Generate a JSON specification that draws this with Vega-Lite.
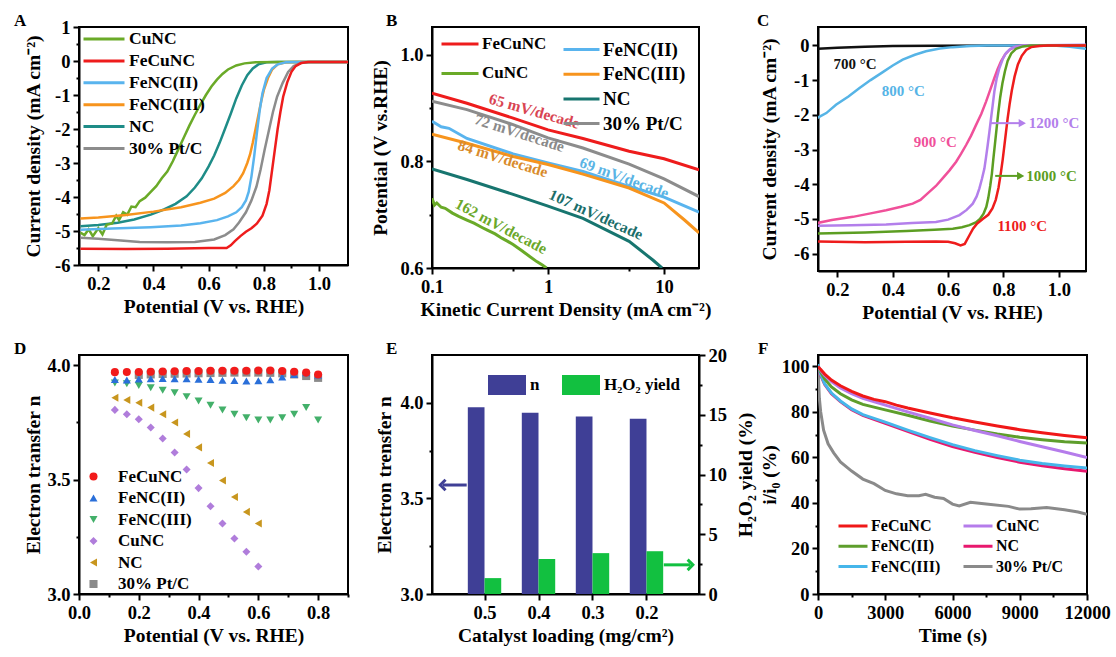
{
"$schema": "https://vega.github.io/schema/vega-lite/v6.json",
"padding": {"left": 13, "top": 11, "right": 4, "bottom": 4},
"bounds": "flush",
"columns": 5,
"spacing": {"row": 84, "column": 41.5},
"resolve": {"scale": {"color": "independent", "shape": "independent"}},
"config": {
  "font": "Liberation Serif",
  "view": {"stroke": "#000", "strokeWidth": 2},
  "axis": {"grid": false, "domainColor": "#000", "domainWidth": 2, "tickColor": "#000", "tickWidth": 2, "tickSize": 6,
    "labelFont": "Liberation Serif", "labelFontWeight": "bold", "labelFontSize": 18.5, "labelColor": "#000", "labelPadding": 3,
    "labelFlush": false, "labelOverlap": false,
    "titleFont": "Liberation Serif", "titleFontWeight": "bold", "titleFontSize": 19.5, "titleColor": "#000"},
  "legend": {"labelFont": "Liberation Serif", "labelFontWeight": "bold", "labelColor": "#000", "padding": 0},
  "title": {"font": "Liberation Serif", "fontWeight": "bold", "fontSize": 17, "color": "#000", "anchor": "start", "frame": "group"},
  "text": {"font": "Liberation Serif", "fontWeight": "bold"}
},
"datasets": {
  "A": [
    {"s":"NC","v":0.135,"j":-4.86},{"s":"NC","v":0.2,"j":-4.82},{"s":"NC","v":0.27,"j":-4.76},{"s":"NC","v":0.33,"j":-4.66},{"s":"NC","v":0.39,"j":-4.52},{"s":"NC","v":0.44,"j":-4.36},{"s":"NC","v":0.48,"j":-4.2},{"s":"NC","v":0.52,"j":-3.98},{"s":"NC","v":0.55,"j":-3.72},{"s":"NC","v":0.575,"j":-3.45},{"s":"NC","v":0.6,"j":-3.1},{"s":"NC","v":0.62,"j":-2.78},{"s":"NC","v":0.64,"j":-2.4},{"s":"NC","v":0.66,"j":-1.98},{"s":"NC","v":0.68,"j":-1.55},{"s":"NC","v":0.7,"j":-1.1},{"s":"NC","v":0.72,"j":-0.72},{"s":"NC","v":0.74,"j":-0.42},{"s":"NC","v":0.76,"j":-0.22},{"s":"NC","v":0.78,"j":-0.1},{"s":"NC","v":0.81,"j":-0.04},{"s":"NC","v":0.85,"j":-0.03},{"s":"NC","v":1.105,"j":-0.03},
    {"s":"CuNC","v":0.135,"j":-5.05},{"s":"CuNC","v":0.15,"j":-5.12},{"s":"CuNC","v":0.165,"j":-4.95},{"s":"CuNC","v":0.18,"j":-5.15},{"s":"CuNC","v":0.2,"j":-4.92},{"s":"CuNC","v":0.215,"j":-5.1},{"s":"CuNC","v":0.23,"j":-4.82},{"s":"CuNC","v":0.25,"j":-4.78},{"s":"CuNC","v":0.265,"j":-4.55},{"s":"CuNC","v":0.275,"j":-4.68},{"s":"CuNC","v":0.29,"j":-4.45},{"s":"CuNC","v":0.305,"j":-4.52},{"s":"CuNC","v":0.32,"j":-4.28},{"s":"CuNC","v":0.335,"j":-4.3},{"s":"CuNC","v":0.35,"j":-4.12},{"s":"CuNC","v":0.37,"j":-4.02},{"s":"CuNC","v":0.39,"j":-3.85},{"s":"CuNC","v":0.41,"j":-3.68},{"s":"CuNC","v":0.43,"j":-3.45},{"s":"CuNC","v":0.45,"j":-3.25},{"s":"CuNC","v":0.47,"j":-2.95},{"s":"CuNC","v":0.49,"j":-2.6},{"s":"CuNC","v":0.51,"j":-2.25},{"s":"CuNC","v":0.53,"j":-1.9},{"s":"CuNC","v":0.55,"j":-1.58},{"s":"CuNC","v":0.57,"j":-1.28},{"s":"CuNC","v":0.59,"j":-1.0},{"s":"CuNC","v":0.61,"j":-0.75},{"s":"CuNC","v":0.63,"j":-0.55},{"s":"CuNC","v":0.65,"j":-0.38},{"s":"CuNC","v":0.67,"j":-0.25},{"s":"CuNC","v":0.7,"j":-0.13},{"s":"CuNC","v":0.73,"j":-0.07},{"s":"CuNC","v":0.77,"j":-0.04},{"s":"CuNC","v":0.85,"j":-0.03},{"s":"CuNC","v":1.105,"j":-0.03},
    {"s":"FeNC(III)","v":0.135,"j":-4.63},{"s":"FeNC(III)","v":0.2,"j":-4.6},{"s":"FeNC(III)","v":0.3,"j":-4.53},{"s":"FeNC(III)","v":0.4,"j":-4.43},{"s":"FeNC(III)","v":0.5,"j":-4.3},{"s":"FeNC(III)","v":0.57,"j":-4.17},{"s":"FeNC(III)","v":0.62,"j":-4.05},{"s":"FeNC(III)","v":0.66,"j":-3.88},{"s":"FeNC(III)","v":0.69,"j":-3.68},{"s":"FeNC(III)","v":0.71,"j":-3.5},{"s":"FeNC(III)","v":0.725,"j":-3.3},{"s":"FeNC(III)","v":0.74,"j":-3.0},{"s":"FeNC(III)","v":0.75,"j":-2.75},{"s":"FeNC(III)","v":0.76,"j":-2.4},{"s":"FeNC(III)","v":0.77,"j":-2.0},{"s":"FeNC(III)","v":0.78,"j":-1.6},{"s":"FeNC(III)","v":0.79,"j":-1.2},{"s":"FeNC(III)","v":0.8,"j":-0.85},{"s":"FeNC(III)","v":0.815,"j":-0.5},{"s":"FeNC(III)","v":0.83,"j":-0.25},{"s":"FeNC(III)","v":0.85,"j":-0.1},{"s":"FeNC(III)","v":0.88,"j":-0.04},{"s":"FeNC(III)","v":0.92,"j":-0.03},{"s":"FeNC(III)","v":1.105,"j":-0.03},
    {"s":"FeNC(II)","v":0.135,"j":-4.96},{"s":"FeNC(II)","v":0.25,"j":-4.93},{"s":"FeNC(II)","v":0.39,"j":-4.89},{"s":"FeNC(II)","v":0.5,"j":-4.84},{"s":"FeNC(II)","v":0.57,"j":-4.77},{"s":"FeNC(II)","v":0.63,"j":-4.68},{"s":"FeNC(II)","v":0.67,"j":-4.57},{"s":"FeNC(II)","v":0.7,"j":-4.45},{"s":"FeNC(II)","v":0.72,"j":-4.3},{"s":"FeNC(II)","v":0.735,"j":-4.1},{"s":"FeNC(II)","v":0.745,"j":-3.85},{"s":"FeNC(II)","v":0.755,"j":-3.4},{"s":"FeNC(II)","v":0.765,"j":-2.8},{"s":"FeNC(II)","v":0.775,"j":-2.1},{"s":"FeNC(II)","v":0.785,"j":-1.45},{"s":"FeNC(II)","v":0.795,"j":-0.95},{"s":"FeNC(II)","v":0.81,"j":-0.5},{"s":"FeNC(II)","v":0.83,"j":-0.22},{"s":"FeNC(II)","v":0.85,"j":-0.1},{"s":"FeNC(II)","v":0.88,"j":-0.04},{"s":"FeNC(II)","v":0.93,"j":-0.03},{"s":"FeNC(II)","v":1.105,"j":-0.03},
    {"s":"30% Pt/C","v":0.135,"j":-5.2},{"s":"30% Pt/C","v":0.2,"j":-5.23},{"s":"30% Pt/C","v":0.27,"j":-5.27},{"s":"30% Pt/C","v":0.35,"j":-5.32},{"s":"30% Pt/C","v":0.45,"j":-5.33},{"s":"30% Pt/C","v":0.55,"j":-5.32},{"s":"30% Pt/C","v":0.62,"j":-5.25},{"s":"30% Pt/C","v":0.66,"j":-5.12},{"s":"30% Pt/C","v":0.69,"j":-4.95},{"s":"30% Pt/C","v":0.71,"j":-4.75},{"s":"30% Pt/C","v":0.735,"j":-4.45},{"s":"30% Pt/C","v":0.755,"j":-4.1},{"s":"30% Pt/C","v":0.773,"j":-3.7},{"s":"30% Pt/C","v":0.788,"j":-3.2},{"s":"30% Pt/C","v":0.803,"j":-2.6},{"s":"30% Pt/C","v":0.818,"j":-2.05},{"s":"30% Pt/C","v":0.833,"j":-1.5},{"s":"30% Pt/C","v":0.848,"j":-1.05},{"s":"30% Pt/C","v":0.868,"j":-0.65},{"s":"30% Pt/C","v":0.888,"j":-0.32},{"s":"30% Pt/C","v":0.908,"j":-0.15},{"s":"30% Pt/C","v":0.933,"j":-0.06},{"s":"30% Pt/C","v":0.968,"j":-0.03},{"s":"30% Pt/C","v":1.105,"j":-0.03},
    {"s":"FeCuNC","v":0.135,"j":-5.52},{"s":"FeCuNC","v":0.3,"j":-5.53},{"s":"FeCuNC","v":0.45,"j":-5.52},{"s":"FeCuNC","v":0.6,"j":-5.5},{"s":"FeCuNC","v":0.665,"j":-5.5},{"s":"FeCuNC","v":0.68,"j":-5.42},{"s":"FeCuNC","v":0.695,"j":-5.3},{"s":"FeCuNC","v":0.715,"j":-5.15},{"s":"FeCuNC","v":0.735,"j":-5.02},{"s":"FeCuNC","v":0.755,"j":-4.92},{"s":"FeCuNC","v":0.775,"j":-4.78},{"s":"FeCuNC","v":0.795,"j":-4.55},{"s":"FeCuNC","v":0.81,"j":-4.2},{"s":"FeCuNC","v":0.82,"j":-3.8},{"s":"FeCuNC","v":0.83,"j":-3.2},{"s":"FeCuNC","v":0.84,"j":-2.6},{"s":"FeCuNC","v":0.85,"j":-2.0},{"s":"FeCuNC","v":0.86,"j":-1.5},{"s":"FeCuNC","v":0.87,"j":-1.05},{"s":"FeCuNC","v":0.885,"j":-0.62},{"s":"FeCuNC","v":0.9,"j":-0.32},{"s":"FeCuNC","v":0.915,"j":-0.15},{"s":"FeCuNC","v":0.935,"j":-0.06},{"s":"FeCuNC","v":0.96,"j":-0.03},{"s":"FeCuNC","v":1.105,"j":-0.03}
  ],
  "B": [
    {"s":"FeCuNC","k":0.1,"E":0.928},{"s":"FeCuNC","k":0.2,"E":0.909},{"s":"FeCuNC","k":0.5,"E":0.881},{"s":"FeCuNC","k":1,"E":0.859},{"s":"FeCuNC","k":2,"E":0.843},{"s":"FeCuNC","k":5,"E":0.819},{"s":"FeCuNC","k":10,"E":0.805},{"s":"FeCuNC","k":20,"E":0.784},
    {"s":"CuNC","k":0.1,"E":0.731},{"s":"CuNC","k":0.105,"E":0.718},{"s":"CuNC","k":0.11,"E":0.722},{"s":"CuNC","k":0.12,"E":0.714},{"s":"CuNC","k":0.13,"E":0.712},{"s":"CuNC","k":0.15,"E":0.703},{"s":"CuNC","k":0.17,"E":0.697},{"s":"CuNC","k":0.2,"E":0.69},{"s":"CuNC","k":0.23,"E":0.684},{"s":"CuNC","k":0.27,"E":0.676},{"s":"CuNC","k":0.3,"E":0.671},{"s":"CuNC","k":0.35,"E":0.664},{"s":"CuNC","k":0.4,"E":0.656},{"s":"CuNC","k":0.45,"E":0.65},{"s":"CuNC","k":0.5,"E":0.644},{"s":"CuNC","k":0.6,"E":0.632},{"s":"CuNC","k":0.7,"E":0.621},{"s":"CuNC","k":0.8,"E":0.612},{"s":"CuNC","k":0.9,"E":0.605},{"s":"CuNC","k":0.97,"E":0.6},
    {"s":"FeNC(II)","k":0.1,"E":0.875},{"s":"FeNC(II)","k":0.12,"E":0.865},{"s":"FeNC(II)","k":0.14,"E":0.862},{"s":"FeNC(II)","k":0.2,"E":0.843},{"s":"FeNC(II)","k":0.5,"E":0.814},{"s":"FeNC(II)","k":1,"E":0.797},{"s":"FeNC(II)","k":2,"E":0.781},{"s":"FeNC(II)","k":5,"E":0.753},{"s":"FeNC(II)","k":10,"E":0.733},{"s":"FeNC(II)","k":20,"E":0.705},
    {"s":"FeNC(III)","k":0.1,"E":0.851},{"s":"FeNC(III)","k":0.2,"E":0.834},{"s":"FeNC(III)","k":0.5,"E":0.809},{"s":"FeNC(III)","k":1,"E":0.794},{"s":"FeNC(III)","k":2,"E":0.776},{"s":"FeNC(III)","k":5,"E":0.75},{"s":"FeNC(III)","k":10,"E":0.722},{"s":"FeNC(III)","k":15,"E":0.69},{"s":"FeNC(III)","k":20,"E":0.666},
    {"s":"NC","k":0.1,"E":0.786},{"s":"NC","k":0.2,"E":0.766},{"s":"NC","k":0.5,"E":0.738},{"s":"NC","k":1,"E":0.716},{"s":"NC","k":2,"E":0.693},{"s":"NC","k":5,"E":0.65},{"s":"NC","k":8,"E":0.615},{"s":"NC","k":9.6,"E":0.6},
    {"s":"30% Pt/C","k":0.1,"E":0.913},{"s":"30% Pt/C","k":0.2,"E":0.897},{"s":"30% Pt/C","k":0.5,"E":0.869},{"s":"30% Pt/C","k":1,"E":0.844},{"s":"30% Pt/C","k":2,"E":0.825},{"s":"30% Pt/C","k":5,"E":0.795},{"s":"30% Pt/C","k":10,"E":0.767},{"s":"30% Pt/C","k":20,"E":0.734}
  ],
  "C": [
    {"T":"700 °C","v":0.12,"j":-0.1},{"T":"700 °C","v":0.2,"j":-0.07},{"T":"700 °C","v":0.3,"j":-0.04},{"T":"700 °C","v":0.4,"j":-0.02},{"T":"700 °C","v":0.55,"j":-0.01},{"T":"700 °C","v":1.1,"j":0.0},
    {"T":"800 °C","v":0.12,"j":-2.12},{"T":"800 °C","v":0.16,"j":-1.95},{"T":"800 °C","v":0.195,"j":-1.71},{"T":"800 °C","v":0.24,"j":-1.47},{"T":"800 °C","v":0.28,"j":-1.23},{"T":"800 °C","v":0.32,"j":-1.0},{"T":"800 °C","v":0.364,"j":-0.77},{"T":"800 °C","v":0.4,"j":-0.58},{"T":"800 °C","v":0.436,"j":-0.41},{"T":"800 °C","v":0.48,"j":-0.27},{"T":"800 °C","v":0.52,"j":-0.17},{"T":"800 °C","v":0.57,"j":-0.09},{"T":"800 °C","v":0.617,"j":-0.05},{"T":"800 °C","v":0.68,"j":-0.02},{"T":"800 °C","v":0.74,"j":0.0},{"T":"800 °C","v":0.98,"j":0.0},{"T":"800 °C","v":1.04,"j":-0.04},{"T":"800 °C","v":1.1,"j":-0.1},
    {"T":"900 °C","v":0.12,"j":-5.13},{"T":"900 °C","v":0.18,"j":-5.03},{"T":"900 °C","v":0.256,"j":-4.94},{"T":"900 °C","v":0.32,"j":-4.84},{"T":"900 °C","v":0.376,"j":-4.75},{"T":"900 °C","v":0.43,"j":-4.65},{"T":"900 °C","v":0.472,"j":-4.56},{"T":"900 °C","v":0.5,"j":-4.45},{"T":"900 °C","v":0.532,"j":-4.22},{"T":"900 °C","v":0.556,"j":-4.05},{"T":"900 °C","v":0.58,"j":-3.83},{"T":"900 °C","v":0.605,"j":-3.6},{"T":"900 °C","v":0.629,"j":-3.35},{"T":"900 °C","v":0.647,"j":-3.12},{"T":"900 °C","v":0.665,"j":-2.87},{"T":"900 °C","v":0.683,"j":-2.6},{"T":"900 °C","v":0.701,"j":-2.29},{"T":"900 °C","v":0.72,"j":-1.97},{"T":"900 °C","v":0.737,"j":-1.62},{"T":"900 °C","v":0.752,"j":-1.28},{"T":"900 °C","v":0.767,"j":-0.94},{"T":"900 °C","v":0.779,"j":-0.68},{"T":"900 °C","v":0.791,"j":-0.46},{"T":"900 °C","v":0.805,"j":-0.27},{"T":"900 °C","v":0.821,"j":-0.13},{"T":"900 °C","v":0.84,"j":-0.05},{"T":"900 °C","v":0.857,"j":-0.02},{"T":"900 °C","v":0.9,"j":0.0},{"T":"900 °C","v":1.1,"j":0.0},
    {"T":"1200 °C","v":0.12,"j":-5.2},{"T":"1200 °C","v":0.25,"j":-5.18},{"T":"1200 °C","v":0.376,"j":-5.16},{"T":"1200 °C","v":0.47,"j":-5.12},{"T":"1200 °C","v":0.556,"j":-5.09},{"T":"1200 °C","v":0.6,"j":-5.02},{"T":"1200 °C","v":0.641,"j":-4.89},{"T":"1200 °C","v":0.667,"j":-4.74},{"T":"1200 °C","v":0.689,"j":-4.56},{"T":"1200 °C","v":0.703,"j":-4.35},{"T":"1200 °C","v":0.713,"j":-4.12},{"T":"1200 °C","v":0.722,"j":-3.85},{"T":"1200 °C","v":0.731,"j":-3.55},{"T":"1200 °C","v":0.737,"j":-3.22},{"T":"1200 °C","v":0.743,"j":-2.87},{"T":"1200 °C","v":0.749,"j":-2.5},{"T":"1200 °C","v":0.755,"j":-2.1},{"T":"1200 °C","v":0.761,"j":-1.72},{"T":"1200 °C","v":0.767,"j":-1.33},{"T":"1200 °C","v":0.775,"j":-0.97},{"T":"1200 °C","v":0.785,"j":-0.66},{"T":"1200 °C","v":0.797,"j":-0.4},{"T":"1200 °C","v":0.809,"j":-0.22},{"T":"1200 °C","v":0.825,"j":-0.1},{"T":"1200 °C","v":0.845,"j":-0.04},{"T":"1200 °C","v":0.87,"j":0.0},{"T":"1200 °C","v":1.1,"j":0.02},
    {"T":"1000 °C","v":0.12,"j":-5.42},{"T":"1000 °C","v":0.3,"j":-5.39},{"T":"1000 °C","v":0.45,"j":-5.35},{"T":"1000 °C","v":0.55,"j":-5.31},{"T":"1000 °C","v":0.617,"j":-5.28},{"T":"1000 °C","v":0.65,"j":-5.24},{"T":"1000 °C","v":0.677,"j":-5.18},{"T":"1000 °C","v":0.7,"j":-5.1},{"T":"1000 °C","v":0.715,"j":-5.0},{"T":"1000 °C","v":0.728,"j":-4.85},{"T":"1000 °C","v":0.738,"j":-4.65},{"T":"1000 °C","v":0.745,"j":-4.4},{"T":"1000 °C","v":0.752,"j":-4.05},{"T":"1000 °C","v":0.758,"j":-3.7},{"T":"1000 °C","v":0.763,"j":-3.3},{"T":"1000 °C","v":0.769,"j":-2.85},{"T":"1000 °C","v":0.775,"j":-2.4},{"T":"1000 °C","v":0.781,"j":-1.95},{"T":"1000 °C","v":0.788,"j":-1.5},{"T":"1000 °C","v":0.796,"j":-1.1},{"T":"1000 °C","v":0.805,"j":-0.75},{"T":"1000 °C","v":0.815,"j":-0.45},{"T":"1000 °C","v":0.828,"j":-0.23},{"T":"1000 °C","v":0.845,"j":-0.1},{"T":"1000 °C","v":0.87,"j":-0.03},{"T":"1000 °C","v":0.9,"j":0.0},{"T":"1000 °C","v":1.1,"j":0.0},
    {"T":"1100 °C","v":0.12,"j":-5.65},{"T":"1100 °C","v":0.3,"j":-5.67},{"T":"1100 °C","v":0.45,"j":-5.66},{"T":"1100 °C","v":0.556,"j":-5.65},{"T":"1100 °C","v":0.6,"j":-5.66},{"T":"1100 °C","v":0.625,"j":-5.7},{"T":"1100 °C","v":0.645,"j":-5.76},{"T":"1100 °C","v":0.66,"j":-5.72},{"T":"1100 °C","v":0.677,"j":-5.47},{"T":"1100 °C","v":0.69,"j":-5.28},{"T":"1100 °C","v":0.705,"j":-5.13},{"T":"1100 °C","v":0.725,"j":-5.0},{"T":"1100 °C","v":0.745,"j":-4.88},{"T":"1100 °C","v":0.76,"j":-4.7},{"T":"1100 °C","v":0.772,"j":-4.45},{"T":"1100 °C","v":0.782,"j":-4.1},{"T":"1100 °C","v":0.79,"j":-3.7},{"T":"1100 °C","v":0.797,"j":-3.3},{"T":"1100 °C","v":0.803,"j":-2.9},{"T":"1100 °C","v":0.809,"j":-2.5},{"T":"1100 °C","v":0.815,"j":-2.1},{"T":"1100 °C","v":0.822,"j":-1.7},{"T":"1100 °C","v":0.83,"j":-1.3},{"T":"1100 °C","v":0.84,"j":-0.9},{"T":"1100 °C","v":0.852,"j":-0.55},{"T":"1100 °C","v":0.866,"j":-0.3},{"T":"1100 °C","v":0.882,"j":-0.13},{"T":"1100 °C","v":0.9,"j":-0.05},{"T":"1100 °C","v":0.93,"j":-0.02},{"T":"1100 °C","v":0.96,"j":0.0},{"T":"1100 °C","v":1.1,"j":0.0}
  ],
  "D": [
    {"s":"30% Pt/C","v":0.2,"n":3.958},{"s":"30% Pt/C","v":0.24,"n":3.96},{"s":"30% Pt/C","v":0.28,"n":3.962},{"s":"30% Pt/C","v":0.32,"n":3.963},{"s":"30% Pt/C","v":0.36,"n":3.964},{"s":"30% Pt/C","v":0.4,"n":3.965},{"s":"30% Pt/C","v":0.44,"n":3.966},{"s":"30% Pt/C","v":0.48,"n":3.967},{"s":"30% Pt/C","v":0.52,"n":3.968},{"s":"30% Pt/C","v":0.56,"n":3.968},{"s":"30% Pt/C","v":0.6,"n":3.968},{"s":"30% Pt/C","v":0.64,"n":3.967},{"s":"30% Pt/C","v":0.68,"n":3.965},{"s":"30% Pt/C","v":0.72,"n":3.96},{"s":"30% Pt/C","v":0.76,"n":3.953},{"s":"30% Pt/C","v":0.8,"n":3.945},
    {"s":"NC","v":0.12,"n":3.858},{"s":"NC","v":0.16,"n":3.848},{"s":"NC","v":0.2,"n":3.836},{"s":"NC","v":0.24,"n":3.815},{"s":"NC","v":0.28,"n":3.786},{"s":"NC","v":0.32,"n":3.75},{"s":"NC","v":0.36,"n":3.7},{"s":"NC","v":0.4,"n":3.641},{"s":"NC","v":0.44,"n":3.573},{"s":"NC","v":0.48,"n":3.496},{"s":"NC","v":0.52,"n":3.424},{"s":"NC","v":0.56,"n":3.359},{"s":"NC","v":0.6,"n":3.308},
    {"s":"CuNC","v":0.12,"n":3.805},{"s":"CuNC","v":0.16,"n":3.786},{"s":"CuNC","v":0.2,"n":3.764},{"s":"CuNC","v":0.24,"n":3.728},{"s":"CuNC","v":0.28,"n":3.68},{"s":"CuNC","v":0.32,"n":3.619},{"s":"CuNC","v":0.36,"n":3.544},{"s":"CuNC","v":0.4,"n":3.463},{"s":"CuNC","v":0.44,"n":3.384},{"s":"CuNC","v":0.48,"n":3.308},{"s":"CuNC","v":0.52,"n":3.243},{"s":"CuNC","v":0.56,"n":3.185},{"s":"CuNC","v":0.6,"n":3.12},
    {"s":"FeNC(III)","v":0.12,"n":3.923},{"s":"FeNC(III)","v":0.16,"n":3.919},{"s":"FeNC(III)","v":0.2,"n":3.912},{"s":"FeNC(III)","v":0.24,"n":3.902},{"s":"FeNC(III)","v":0.28,"n":3.891},{"s":"FeNC(III)","v":0.32,"n":3.88},{"s":"FeNC(III)","v":0.36,"n":3.863},{"s":"FeNC(III)","v":0.4,"n":3.844},{"s":"FeNC(III)","v":0.44,"n":3.825},{"s":"FeNC(III)","v":0.48,"n":3.805},{"s":"FeNC(III)","v":0.52,"n":3.786},{"s":"FeNC(III)","v":0.56,"n":3.771},{"s":"FeNC(III)","v":0.6,"n":3.761},{"s":"FeNC(III)","v":0.64,"n":3.761},{"s":"FeNC(III)","v":0.68,"n":3.771},{"s":"FeNC(III)","v":0.72,"n":3.786},{"s":"FeNC(III)","v":0.76,"n":3.815},{"s":"FeNC(III)","v":0.8,"n":3.761},
    {"s":"FeNC(II)","v":0.12,"n":3.938},{"s":"FeNC(II)","v":0.16,"n":3.936},{"s":"FeNC(II)","v":0.2,"n":3.94},{"s":"FeNC(II)","v":0.24,"n":3.941},{"s":"FeNC(II)","v":0.28,"n":3.942},{"s":"FeNC(II)","v":0.32,"n":3.941},{"s":"FeNC(II)","v":0.36,"n":3.941},{"s":"FeNC(II)","v":0.4,"n":3.939},{"s":"FeNC(II)","v":0.44,"n":3.938},{"s":"FeNC(II)","v":0.48,"n":3.935},{"s":"FeNC(II)","v":0.52,"n":3.933},{"s":"FeNC(II)","v":0.56,"n":3.931},{"s":"FeNC(II)","v":0.6,"n":3.932},{"s":"FeNC(II)","v":0.64,"n":3.937},{"s":"FeNC(II)","v":0.68,"n":3.949},{"s":"FeNC(II)","v":0.72,"n":3.96},{"s":"FeNC(II)","v":0.76,"n":3.967},{"s":"FeNC(II)","v":0.8,"n":3.957},
    {"s":"FeCuNC","v":0.12,"n":3.97},{"s":"FeCuNC","v":0.16,"n":3.971},{"s":"FeCuNC","v":0.2,"n":3.971},{"s":"FeCuNC","v":0.24,"n":3.972},{"s":"FeCuNC","v":0.28,"n":3.973},{"s":"FeCuNC","v":0.32,"n":3.974},{"s":"FeCuNC","v":0.36,"n":3.975},{"s":"FeCuNC","v":0.4,"n":3.975},{"s":"FeCuNC","v":0.44,"n":3.976},{"s":"FeCuNC","v":0.48,"n":3.976},{"s":"FeCuNC","v":0.52,"n":3.976},{"s":"FeCuNC","v":0.56,"n":3.976},{"s":"FeCuNC","v":0.6,"n":3.977},{"s":"FeCuNC","v":0.64,"n":3.977},{"s":"FeCuNC","v":0.68,"n":3.975},{"s":"FeCuNC","v":0.72,"n":3.972},{"s":"FeCuNC","v":0.76,"n":3.968},{"s":"FeCuNC","v":0.8,"n":3.96}
  ],
  "E": [
    {"c":0.5,"n":3.977,"h":1.33},{"c":0.4,"n":3.948,"h":2.92},{"c":0.3,"n":3.929,"h":3.42},{"c":0.2,"n":3.917,"h":3.58}
  ],
  "F": [
    {"s":"30% Pt/C","t":0,"r":100},{"s":"30% Pt/C","t":30,"r":93},{"s":"30% Pt/C","t":60,"r":86},{"s":"30% Pt/C","t":120,"r":80},{"s":"30% Pt/C","t":250,"r":72},{"s":"30% Pt/C","t":450,"r":66},{"s":"30% Pt/C","t":700,"r":62},{"s":"30% Pt/C","t":1000,"r":58},{"s":"30% Pt/C","t":1500,"r":54},{"s":"30% Pt/C","t":2000,"r":50.5},{"s":"30% Pt/C","t":2500,"r":48.5},{"s":"30% Pt/C","t":3000,"r":45.5},{"s":"30% Pt/C","t":3500,"r":44},{"s":"30% Pt/C","t":4000,"r":43.2},{"s":"30% Pt/C","t":4500,"r":43.2},{"s":"30% Pt/C","t":4800,"r":43.8},{"s":"30% Pt/C","t":5200,"r":42.5},{"s":"30% Pt/C","t":5600,"r":42},{"s":"30% Pt/C","t":6000,"r":39.5},{"s":"30% Pt/C","t":6300,"r":38.7},{"s":"30% Pt/C","t":6800,"r":40.3},{"s":"30% Pt/C","t":7500,"r":39.5},{"s":"30% Pt/C","t":8500,"r":38.5},{"s":"30% Pt/C","t":9000,"r":37.3},{"s":"30% Pt/C","t":9500,"r":37.5},{"s":"30% Pt/C","t":10200,"r":38},{"s":"30% Pt/C","t":11000,"r":37},{"s":"30% Pt/C","t":11600,"r":36},{"s":"30% Pt/C","t":12000,"r":35},
    {"s":"NC","t":0,"r":100},{"s":"NC","t":100,"r":96.5},{"s":"NC","t":300,"r":92},{"s":"NC","t":600,"r":88},{"s":"NC","t":1000,"r":84.5},{"s":"NC","t":1500,"r":81},{"s":"NC","t":2000,"r":78.5},{"s":"NC","t":3000,"r":75},{"s":"NC","t":4000,"r":71.5},{"s":"NC","t":5000,"r":68},{"s":"NC","t":6000,"r":64.8},{"s":"NC","t":7000,"r":62.3},{"s":"NC","t":8000,"r":60},{"s":"NC","t":9000,"r":57.9},{"s":"NC","t":10000,"r":56.3},{"s":"NC","t":11000,"r":55},{"s":"NC","t":12000,"r":53.9},
    {"s":"FeNC(III)","t":0,"r":101},{"s":"FeNC(III)","t":100,"r":97},{"s":"FeNC(III)","t":300,"r":92.3},{"s":"FeNC(III)","t":600,"r":88.3},{"s":"FeNC(III)","t":1000,"r":84.8},{"s":"FeNC(III)","t":1500,"r":81.3},{"s":"FeNC(III)","t":2000,"r":78.8},{"s":"FeNC(III)","t":3000,"r":75.5},{"s":"FeNC(III)","t":4000,"r":72},{"s":"FeNC(III)","t":5000,"r":68.7},{"s":"FeNC(III)","t":6000,"r":65.6},{"s":"FeNC(III)","t":7000,"r":63},{"s":"FeNC(III)","t":8000,"r":60.8},{"s":"FeNC(III)","t":9000,"r":58.8},{"s":"FeNC(III)","t":10000,"r":57.3},{"s":"FeNC(III)","t":11000,"r":56.2},{"s":"FeNC(III)","t":12000,"r":55.3},
    {"s":"FeNC(II)","t":0,"r":100},{"s":"FeNC(II)","t":100,"r":97.8},{"s":"FeNC(II)","t":300,"r":94.5},{"s":"FeNC(II)","t":600,"r":91},{"s":"FeNC(II)","t":1000,"r":88},{"s":"FeNC(II)","t":1500,"r":85.3},{"s":"FeNC(II)","t":2000,"r":83.3},{"s":"FeNC(II)","t":3000,"r":80.9},{"s":"FeNC(II)","t":4000,"r":78.5},{"s":"FeNC(II)","t":5000,"r":76},{"s":"FeNC(II)","t":6000,"r":73.8},{"s":"FeNC(II)","t":7000,"r":72},{"s":"FeNC(II)","t":8000,"r":70.3},{"s":"FeNC(II)","t":9000,"r":68.9},{"s":"FeNC(II)","t":10000,"r":67.8},{"s":"FeNC(II)","t":11000,"r":66.9},{"s":"FeNC(II)","t":12000,"r":66.3},
    {"s":"CuNC","t":0,"r":100},{"s":"CuNC","t":100,"r":98.5},{"s":"CuNC","t":300,"r":96},{"s":"CuNC","t":600,"r":93.3},{"s":"CuNC","t":1000,"r":90.5},{"s":"CuNC","t":1500,"r":88},{"s":"CuNC","t":2000,"r":86},{"s":"CuNC","t":3000,"r":83},{"s":"CuNC","t":4000,"r":80},{"s":"CuNC","t":5000,"r":77.2},{"s":"CuNC","t":6000,"r":74.3},{"s":"CuNC","t":7000,"r":71.8},{"s":"CuNC","t":8000,"r":69.5},{"s":"CuNC","t":9000,"r":67},{"s":"CuNC","t":10000,"r":64.7},{"s":"CuNC","t":11000,"r":62.4},{"s":"CuNC","t":12000,"r":60},
    {"s":"FeCuNC","t":0,"r":100},{"s":"FeCuNC","t":100,"r":98.8},{"s":"FeCuNC","t":300,"r":96.6},{"s":"FeCuNC","t":600,"r":94},{"s":"FeCuNC","t":1000,"r":91.5},{"s":"FeCuNC","t":1500,"r":89},{"s":"FeCuNC","t":2000,"r":87},{"s":"FeCuNC","t":2500,"r":85.5},{"s":"FeCuNC","t":3000,"r":84.5},{"s":"FeCuNC","t":3500,"r":83},{"s":"FeCuNC","t":4000,"r":81.7},{"s":"FeCuNC","t":5000,"r":79.5},{"s":"FeCuNC","t":6000,"r":77.4},{"s":"FeCuNC","t":7000,"r":75.6},{"s":"FeCuNC","t":8000,"r":73.8},{"s":"FeCuNC","t":9000,"r":72.2},{"s":"FeCuNC","t":10000,"r":70.8},{"s":"FeCuNC","t":11000,"r":69.6},{"s":"FeCuNC","t":12000,"r":68.6}
  ]
},
"concat": [
  {
    "width": 269, "height": 238,
    "title": {"text": "A", "dx": -65, "offset": -12},
    "data": {"name": "A"},
    "mark": {"type": "line", "strokeWidth": 2.5, "clip": true},
    "encoding": {
      "x": {"field": "v", "type": "quantitative", "scale": {"domain": [0.13, 1.105], "nice": false, "zero": false},
        "axis": {"title": "Potential (V vs. RHE)", "titlePadding": 4.75, "values": [0.2,0.3,0.4,0.5,0.6,0.7,0.8,0.9,1.0],
          "labelExpr": "round(datum.value*10)%2===1 ? '' : format(datum.value,'.1f')",
          "tickSize": {"condition": {"test": "round(datum.value*10)%2===1", "value": 3}, "value": 6}}},
      "y": {"field": "j", "type": "quantitative", "scale": {"domain": [-6, 1], "nice": false, "zero": false},
        "axis": {"title": "Current density (mA cm⁻²)", "titlePadding": 11.3, "values": [-6,-5.5,-5,-4.5,-4,-3.5,-3,-2.5,-2,-1.5,-1,-0.5,0,0.5,1],
          "labelExpr": "datum.value%1!==0 ? '' : ''+datum.value",
          "tickSize": {"condition": {"test": "datum.value%1!==0", "value": 3}, "value": 6}}},
      "color": {"field": "s", "type": "nominal",
        "scale": {"domain": ["CuNC","FeCuNC","FeNC(II)","FeNC(III)","NC","30% Pt/C"], "range": ["#6AAA28","#EE1C1C","#59B4EE","#F7941D","#1E8C87","#8C8C8C"]},
        "legend": {"title": null, "orient": "top-left", "offset": 3, "symbolType": "stroke", "symbolSize": 1681, "symbolStrokeWidth": 3, "labelFontSize": 17.5, "labelOffset": 3, "clipHeight": 18, "rowPadding": 3.9}}
    }
  },
  {"width": 1, "height": 1, "view": {"stroke": null}, "data": {"values": []}, "mark": "point", "encoding": {}},
  {
    "width": 267, "height": 241,
    "title": {"text": "B", "dx": -46, "offset": -3},
    "resolve": {"scale": {"color": "independent"}},
    "layer": [
      {"data": {"name": "B"}, "transform": [{"filter": "datum.s==='FeCuNC'||datum.s==='CuNC'"}],
        "mark": {"type": "line", "strokeWidth": 3, "clip": true},
        "encoding": {
          "x": {"field": "k", "type": "quantitative", "scale": {"type": "log", "domain": [0.1, 20], "nice": false},
            "axis": {"title": "Kinetic Current Density (mA cm⁻²)", "titlePadding": 4.75, "values": [0.1,0.5,1,5,10],
              "labelExpr": "datum.value===0.5||datum.value===5 ? '' : ''+datum.value",
              "tickSize": {"condition": {"test": "datum.value===0.5||datum.value===5", "value": 3}, "value": 6}}},
          "y": {"field": "E", "type": "quantitative", "scale": {"domain": [0.6, 1.052], "nice": false, "zero": false},
            "axis": {"title": "Potential (V vs.RHE)", "titlePadding": 9.75, "values": [0.6,0.7,0.8,0.9,1.0],
              "labelExpr": "round(datum.value*10)%2===1 ? '' : format(datum.value,'.1f')",
              "tickSize": {"condition": {"test": "round(datum.value*10)%2===1", "value": 3}, "value": 6}}},
          "color": {"field": "s", "type": "nominal", "scale": {"domain": ["FeCuNC","CuNC"], "range": ["#EE1C1C","#6AAA28"]},
            "legend": {"title": null, "orient": "top-left", "offset": 8, "symbolType": "stroke", "symbolSize": 1369, "symbolStrokeWidth": 3, "labelFontSize": 17, "labelOffset": 2, "clipHeight": 18, "rowPadding": 11.4}}
        }},
      {"data": {"name": "B"}, "transform": [{"filter": "datum.s!=='FeCuNC'&&datum.s!=='CuNC'"}],
        "mark": {"type": "line", "strokeWidth": 3, "clip": true},
        "encoding": {
          "x": {"field": "k", "type": "quantitative"},
          "y": {"field": "E", "type": "quantitative"},
          "color": {"field": "s", "type": "nominal", "scale": {"domain": ["FeNC(II)","FeNC(III)","NC","30% Pt/C"], "range": ["#59B4EE","#F7941D","#17756F","#8C8C8C"]},
            "legend": {"title": null, "orient": "top-right", "offset": 13, "symbolType": "stroke", "symbolSize": 1296, "symbolStrokeWidth": 3, "labelFontSize": 19, "labelOffset": 2, "clipHeight": 19, "rowPadding": 4.7}}
        }},
      {"data": {"values": [{"k": 0.763, "E": 0.894, "t": "65 mV/decade"}]}, "mark": {"type": "text", "angle": 15.8, "fontSize": 15.5, "color": "#D94452"},
        "encoding": {"x": {"field": "k", "type": "quantitative"}, "y": {"field": "E", "type": "quantitative"}, "text": {"field": "t"}}},
      {"data": {"values": [{"k": 0.567, "E": 0.853, "t": "72 mV/decade"}]}, "mark": {"type": "text", "angle": 17.8, "fontSize": 15.5, "color": "#8A8A8A"},
        "encoding": {"x": {"field": "k", "type": "quantitative"}, "y": {"field": "E", "type": "quantitative"}, "text": {"field": "t"}}},
      {"data": {"values": [{"k": 0.408, "E": 0.805, "t": "84 mV/decade"}]}, "mark": {"type": "text", "angle": 17.5, "fontSize": 15.5, "color": "#D98B2B"},
        "encoding": {"x": {"field": "k", "type": "quantitative"}, "y": {"field": "E", "type": "quantitative"}, "text": {"field": "t"}}},
      {"data": {"values": [{"k": 4.53, "E": 0.769, "t": "69 mV/decade"}]}, "mark": {"type": "text", "angle": 20, "fontSize": 15.5, "color": "#5AB4E5"},
        "encoding": {"x": {"field": "k", "type": "quantitative"}, "y": {"field": "E", "type": "quantitative"}, "text": {"field": "t"}}},
      {"data": {"values": [{"k": 2.59, "E": 0.70, "t": "107 mV/decade"}]}, "mark": {"type": "text", "angle": 24.4, "fontSize": 15.5, "color": "#1B6E6A"},
        "encoding": {"x": {"field": "k", "type": "quantitative"}, "y": {"field": "E", "type": "quantitative"}, "text": {"field": "t"}}},
      {"data": {"values": [{"k": 0.394, "E": 0.678, "t": "162 mV/decade"}]}, "mark": {"type": "text", "angle": 27.8, "fontSize": 15.5, "color": "#6BA82A"},
        "encoding": {"x": {"field": "k", "type": "quantitative"}, "y": {"field": "E", "type": "quantitative"}, "text": {"field": "t"}}}
    ]
  },
  {"width": 36, "height": 1, "view": {"stroke": null}, "data": {"values": []}, "mark": "point", "encoding": {}},
  {
    "width": 268, "height": 244,
    "title": {"text": "C", "dx": -61, "offset": -3},
    "layer": [
      {"data": {"name": "C"}, "mark": {"type": "line", "strokeWidth": 2.5, "clip": true},
        "encoding": {
          "x": {"field": "v", "type": "quantitative", "scale": {"domain": [0.13, 1.098], "nice": false, "zero": false},
            "axis": {"title": "Potential (V vs. RHE)", "titlePadding": 4.75, "values": [0.2,0.3,0.4,0.5,0.6,0.7,0.8,0.9,1.0],
              "labelExpr": "round(datum.value*10)%2===1 ? '' : format(datum.value,'.1f')",
              "tickSize": {"condition": {"test": "round(datum.value*10)%2===1", "value": 3}, "value": 6}}},
          "y": {"field": "j", "type": "quantitative", "scale": {"domain": [-6.5, 0.53], "nice": false, "zero": false},
            "axis": {"title": "Current density (mA cm⁻²)", "titlePadding": 14, "values": [-6,-5.5,-5,-4.5,-4,-3.5,-3,-2.5,-2,-1.5,-1,-0.5,0,0.5],
              "labelExpr": "datum.value%1!==0 ? '' : ''+datum.value",
              "tickSize": {"condition": {"test": "datum.value%1!==0", "value": 3}, "value": 6}}},
          "color": {"field": "T", "type": "nominal", "legend": null,
            "scale": {"domain": ["700 °C","800 °C","900 °C","1000 °C","1100 °C","1200 °C"], "range": ["#111111","#56B4E6","#F0509A","#5C9E22","#EE1C1C","#B37FEB"]}}
        }},
      {"data": {"values": [{"v": 0.264, "j": -0.54, "T": "700 °C"}, {"v": 0.438, "j": -1.31, "T": "800 °C"}, {"v": 0.554, "j": -2.77, "T": "900 °C"}, {"v": 0.868, "j": -5.2, "T": "1100 °C"}]},
        "mark": {"type": "text", "fontSize": 15},
        "encoding": {"x": {"field": "v", "type": "quantitative"}, "y": {"field": "j", "type": "quantitative"}, "text": {"field": "T"}, "color": {"field": "T", "type": "nominal"}}},
      {"data": {"values": [{"v": 0.891, "j": -2.24, "T": "1200 °C"}, {"v": 0.882, "j": -3.76, "T": "1000 °C"}]},
        "mark": {"type": "text", "fontSize": 15, "align": "left"},
        "encoding": {"x": {"field": "v", "type": "quantitative"}, "y": {"field": "j", "type": "quantitative"}, "text": {"field": "T"}, "color": {"field": "T", "type": "nominal"}}},
      {"data": {"values": [{"v": 0.755, "v2": 0.866, "j": -2.24, "T": "1200 °C"}, {"v": 0.77, "v2": 0.86, "j": -3.76, "T": "1000 °C"}]},
        "mark": {"type": "rule", "strokeWidth": 2},
        "encoding": {"x": {"field": "v", "type": "quantitative"}, "x2": {"field": "v2"}, "y": {"field": "j", "type": "quantitative"}, "color": {"field": "T", "type": "nominal"}}},
      {"data": {"values": [{"v": 0.868, "j": -2.24, "T": "1200 °C"}, {"v": 0.862, "j": -3.76, "T": "1000 °C"}]},
        "mark": {"type": "point", "shape": "triangle-right", "filled": true, "size": 70, "opacity": 1},
        "encoding": {"x": {"field": "v", "type": "quantitative"}, "y": {"field": "j", "type": "quantitative"}, "color": {"field": "T", "type": "nominal"}}}
    ]
  },
  {
    "width": 269, "height": 239,
    "title": {"text": "D", "dx": -65, "offset": -3},
    "data": {"name": "D"},
    "mark": {"type": "point", "filled": true, "size": 65, "opacity": 1},
    "encoding": {
      "x": {"field": "v", "type": "quantitative", "scale": {"domain": [0, 0.9], "nice": false, "zero": false},
        "axis": {"title": "Potential (V vs. RHE)", "titlePadding": 4.75, "values": [0,0.1,0.2,0.3,0.4,0.5,0.6,0.7,0.8,0.9],
          "labelExpr": "round(datum.value*10)%2===1 ? '' : format(datum.value,'.1f')",
          "tickSize": {"condition": {"test": "round(datum.value*10)%2===1", "value": 3}, "value": 6}}},
      "y": {"field": "n", "type": "quantitative", "scale": {"domain": [3, 4.045], "nice": false, "zero": false},
        "axis": {"title": "Electron transfer n", "titlePadding": 3, "values": [3,3.25,3.5,3.75,4],
          "labelExpr": "datum.value===3.25||datum.value===3.75 ? '' : format(datum.value,'.1f')",
          "tickSize": {"condition": {"test": "datum.value===3.25||datum.value===3.75", "value": 3}, "value": 6}}},
      "color": {"field": "s", "type": "nominal",
        "scale": {"domain": ["FeCuNC","FeNC(II)","FeNC(III)","CuNC","NC","30% Pt/C"], "range": ["#F21B1B","#2A6FD9","#43B06A","#B07DDB","#C8961E","#8A8A8A"]},
        "legend": {"title": null, "orient": "bottom-left", "offset": 1, "symbolOffset": 5, "labelFontSize": 17, "labelOffset": 16, "clipHeight": 17, "rowPadding": 3.5, "symbolSize": 65}},
      "shape": {"field": "s", "type": "nominal",
        "scale": {"domain": ["FeCuNC","FeNC(II)","FeNC(III)","CuNC","NC","30% Pt/C"], "range": ["circle","triangle-up","triangle-down","diamond","triangle-left","square"]},
        "legend": {"title": null, "orient": "bottom-left", "offset": 1, "symbolOffset": 5, "labelFontSize": 17, "labelOffset": 16, "clipHeight": 17, "rowPadding": 3.5, "symbolSize": 65}}
    }
  },
  {"width": 1, "height": 1, "view": {"stroke": null}, "data": {"values": []}, "mark": "point", "encoding": {}},
  {
    "width": 267, "height": 239,
    "title": {"text": "E", "dx": -46, "offset": -12},
    "resolve": {"scale": {"y": "independent"}},
    "layer": [
      {"data": {"name": "E"}, "mark": {"type": "bar", "width": 16.7, "xOffset": -8.35},
        "encoding": {
          "x": {"field": "c", "type": "quantitative", "scale": {"domain": [0.112, 0.588], "reverse": true, "nice": false, "zero": false},
            "axis": {"title": "Catalyst loading (mg/cm²)", "titlePadding": 4.75, "values": [0.5,0.4,0.3,0.2], "format": ".1f"}},
          "y": {"field": "n", "type": "quantitative", "scale": {"domain": [3, 4.25], "nice": false, "zero": false},
            "axis": {"title": "Electron trensfer n", "titlePadding": 5.75, "values": [3,3.25,3.5,3.75,4],
              "labelExpr": "datum.value===3.25||datum.value===3.75 ? '' : format(datum.value,'.1f')",
              "tickSize": {"condition": {"test": "datum.value===3.25||datum.value===3.75", "value": 3}, "value": 6}}},
          "y2": {"datum": 3},
          "color": {"datum": "n", "scale": {"domain": ["n", "H₂O₂ yield"], "range": ["#3F3F96", "#12C040"]},
            "legend": {"title": null, "orient": "top-right", "offset": 19, "direction": "horizontal", "symbolType": "M-1,-0.53H1V0.53H-1Z", "symbolSize": 1444, "symbolStrokeWidth": 0, "labelFontSize": 17, "labelOffset": 4, "clipHeight": 22, "columnPadding": 22}}
        }},
      {"data": {"name": "E"}, "mark": {"type": "bar", "width": 16.7, "xOffset": 8.35},
        "encoding": {
          "x": {"field": "c", "type": "quantitative"},
          "y": {"field": "h", "type": "quantitative", "scale": {"domain": [0, 20], "nice": false},
            "axis": {"orient": "right", "title": "H₂O₂ yield (%)", "titlePadding": 10, "titleAngle": 270, "titleBaseline": "top", "values": [0,2.5,5,7.5,10,12.5,15,17.5,20],
              "labelExpr": "datum.value%5!==0 ? '' : ''+datum.value",
              "tickSize": {"condition": {"test": "datum.value%5!==0", "value": 3}, "value": 6}}},
          "color": {"datum": "H₂O₂ yield"}
        }},
      {"data": {"values": [{"c": 0.533, "c2": 0.577, "n": 3.57}]}, "mark": {"type": "rule", "strokeWidth": 3, "color": "#3F3F96"},
        "encoding": {"x": {"field": "c", "type": "quantitative"}, "x2": {"field": "c2"}, "y": {"field": "n", "type": "quantitative", "scale": {"domain": [3, 4.25], "nice": false, "zero": false}, "axis": null}}},
      {"data": {"values": [{"c": 0.578, "n": 3.57}]}, "mark": {"type": "point", "shape": "M0.6,-1L-0.4,0L0.6,1", "filled": false, "strokeWidth": 3, "size": 110, "opacity": 1, "color": "#3F3F96"},
        "encoding": {"x": {"field": "c", "type": "quantitative"}, "y": {"field": "n", "type": "quantitative", "scale": {"domain": [3, 4.25], "nice": false, "zero": false}, "axis": null}}},
      {"data": {"values": [{"c": 0.168, "c2": 0.119, "h": 2.44}]}, "mark": {"type": "rule", "strokeWidth": 3, "color": "#12C040"},
        "encoding": {"x": {"field": "c", "type": "quantitative"}, "x2": {"field": "c2"}, "y": {"field": "h", "type": "quantitative", "scale": {"domain": [0, 20], "nice": false}, "axis": null}}},
      {"data": {"values": [{"c": 0.118, "h": 2.44}]}, "mark": {"type": "point", "shape": "M-0.6,-1L0.4,0L-0.6,1", "filled": false, "strokeWidth": 3, "size": 110, "opacity": 1, "color": "#12C040"},
        "encoding": {"x": {"field": "c", "type": "quantitative"}, "y": {"field": "h", "type": "quantitative", "scale": {"domain": [0, 20], "nice": false}, "axis": null}}}
    ]
  },
  {"width": 36, "height": 1, "view": {"stroke": null}, "data": {"values": []}, "mark": "point", "encoding": {}},
  {
    "width": 269, "height": 239,
    "title": {"text": "F", "dx": -60, "offset": -3},
    "data": {"name": "F"},
    "mark": {"type": "line", "strokeWidth": 3, "clip": true},
    "encoding": {
      "x": {"field": "t", "type": "quantitative", "scale": {"domain": [0, 12000], "nice": false, "zero": false},
        "axis": {"title": "Time (s)", "titlePadding": 4.75, "values": [0,1500,3000,4500,6000,7500,9000,10500,12000],
          "labelExpr": "datum.value%3000!==0 ? '' : ''+datum.value",
          "tickSize": {"condition": {"test": "datum.value%3000!==0", "value": 3}, "value": 6}}},
      "y": {"field": "r", "type": "quantitative", "scale": {"domain": [0, 105], "nice": false, "zero": false},
        "axis": {"title": "i/i₀ (%)", "titlePadding": 1.5, "values": [0,10,20,30,40,50,60,70,80,90,100],
          "labelExpr": "datum.value%20!==0 ? '' : ''+datum.value",
          "tickSize": {"condition": {"test": "datum.value%20!==0", "value": 3}, "value": 6}}},
      "color": {"field": "s", "type": "nominal",
        "scale": {"domain": ["FeCuNC","FeNC(II)","FeNC(III)","CuNC","NC","30% Pt/C"], "range": ["#F01818","#5E9E2C","#46B6EA","#B57CEB","#E8186E","#8A8A8A"]},
        "legend": {"title": null, "orient": "bottom-left", "offset": 19, "columns": 2, "columnPadding": 21, "symbolType": "stroke", "symbolSize": 841, "symbolStrokeWidth": 3, "labelFontSize": 16, "labelOffset": 2, "clipHeight": 16, "rowPadding": 4.3}}
    }
  }
]
}
